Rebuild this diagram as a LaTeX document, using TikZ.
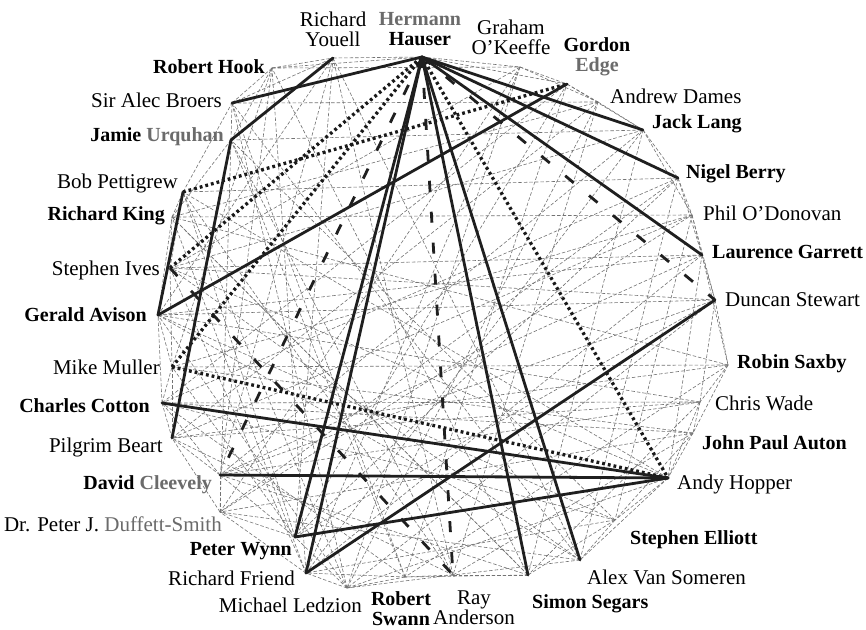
\documentclass[tikz,border=0pt]{standalone}
\usepackage{fontspec}
\setmainfont{Liberation Serif}
\definecolor{lg}{gray}{0.42}
\begin{document}
\begin{tikzpicture}[x=1pt,y=-1pt,
  web/.style={draw=black!55, line width=0.6pt, dash pattern=on 3.5pt off 2pt},
  tie/.style={draw=black!88, line width=2.8pt, line cap=round},
  dots/.style={draw=black!90, line width=3.3pt, dash pattern=on 2.8pt off 3pt},
  longdash/.style={draw=black!88, line width=2.8pt, dash pattern=on 11pt off 20pt},
  lab/.style={inner sep=0pt, font=\fontsize{21}{20}\selectfont, align=center},
  blab/.style={inner sep=0pt, font=\fontsize{20}{20}\selectfont\bfseries, align=center}]
\useasboundingbox[fill=white] (0,0) rectangle (866,629);
% vertices
\coordinate (hau) at (422,57);
\coordinate (oke) at (520,67);
\coordinate (edg) at (567,84);
\coordinate (dam) at (598,102);
\coordinate (lan) at (643,130);
\coordinate (ber) at (678,178);
\coordinate (odo) at (692,215);
\coordinate (gar) at (702,255);
\coordinate (ste) at (715,300);
\coordinate (sax) at (728,365);
\coordinate (wad) at (700,402);
\coordinate (aut) at (693,433);
\coordinate (hop) at (668,478);
\coordinate (ell) at (615,520);
\coordinate (vsm) at (580,560);
\coordinate (seg) at (528,575);
\coordinate (and) at (453,575);
\coordinate (swa) at (405,577);
\coordinate (led) at (347,588);
\coordinate (fri) at (306,573);
\coordinate (wyn) at (295,537);
\coordinate (duf) at (220,512);
\coordinate (cle) at (220,475);
\coordinate (bea) at (172,438);
\coordinate (cot) at (162,403);
\coordinate (mul) at (172,367);
\coordinate (avi) at (158,315);
\coordinate (ive) at (170,268);
\coordinate (kin) at (172,217);
\coordinate (pet) at (183,192);
\coordinate (urq) at (231,140);
\coordinate (bro) at (232,103);
\coordinate (hoo) at (272,68);
\coordinate (you) at (333,58);
% thin dashed web
\foreach \a/\b in {hoo/you, you/hau, hau/oke, oke/edg, edg/dam, dam/lan, lan/ber, ber/odo, odo/gar, gar/ste, ste/sax, sax/wad, wad/aut, aut/hop, hop/ell, ell/vsm, seg/and, and/swa, swa/led, led/fri, wyn/duf, duf/cle, cle/bea, bea/cot, cot/mul, mul/avi, ive/kin, kin/pet, urq/bro, bro/hoo,
 hau/edg, oke/dam, edg/lan, lan/odo, ber/gar, odo/ste, gar/sax, ste/wad, sax/aut, wad/hop, aut/ell, hop/vsm, ell/seg, vsm/and, seg/swa, and/led, swa/fri, led/wyn, fri/duf, wyn/cle, duf/bea, cle/cot, bea/mul, cot/avi, mul/ive, avi/kin, ive/pet, kin/urq, pet/bro, urq/hoo, bro/you, hoo/hau,
 kin/odo, ive/gar, mul/sax, cot/wad, avi/ste, pet/ber, urq/lan, bro/dam, hoo/oke, you/vsm, oke/fri, oke/duf, edg/wyn, dam/bea, lan/cle, ber/cot, ber/duf, odo/mul, odo/bea, gar/avi, gar/cle, ste/ive, ste/wyn, sax/bea, sax/kin, wad/cle, wad/avi, aut/mul, aut/duf, hop/pet, hop/ive, ell/cot, ell/urq, vsm/bro, vsm/avi, seg/hoo, seg/kin, and/you, and/urq, swa/bro, swa/edg, led/dam, led/pet, fri/lan, fri/ive, wyn/mul, duf/odo, cle/ste, bea/wad, cot/aut, avi/ell, ive/vsm, kin/seg, pet/and, urq/swa, bro/led, hoo/fri, you/wyn, oke/led, dam/and, lan/seg, ber/vsm, odo/ell, gar/hop, you/cle, you/avi, hoo/mul, oke/ive, edg/cot, dam/kin, lan/ive, ber/wyn, gar/fri, ste/led, sax/swa, wad/seg, aut/and, hop/led, ell/fri, vsm/duf, seg/cle, and/bea, swa/cot, led/avi, fri/kin, wyn/pet, duf/urq, cle/hoo}
  \draw[web] (\a) -- (\b);
% long dashed
\foreach \a/\b in {hau/ste, hau/and, hau/cle, ive/and}
  \draw[longdash] (\a) -- (\b);
% dotted
\foreach \a/\b in {pet/edg, ive/hau, mul/hau, mul/hop, hau/hop}
  \draw[dots] (\a) -- (\b);
% thick solid
\foreach \a/\b in {bro/hau, you/urq, urq/bea, pet/avi, avi/edg, hau/lan, hau/ber, hau/gar, hau/wyn, hau/fri, hau/seg, hau/vsm, ste/fri, wyn/hop, cle/hop, cot/hop}
  \draw[tie] (\a) -- (\b);
% labels
\node[lab] (lyou) at (333,29) {Richard\\Youell};
\node[blab] (lhau) at (420,29) {\textcolor{lg}{Hermann}\\Hauser};
\node[lab] (loke) at (511,37) {Graham\\O'Keeffe};
\node[blab] (ledg) at (597,57) {Gordon\\\textcolor{lg}{Edge}};
\node[lab, anchor=west] (ldam) at (610,96) {Andrew Dames};
\node[blab, anchor=west] (llan) at (652,124) {Jack Lang};
\node[blab, anchor=west] (lber) at (686,174) {Nigel Berry};
\node[lab, anchor=west] (lodo) at (703,213) {Phil O'Donovan};
\node[blab, anchor=west] (lgar) at (712,252) {Laurence Garrett};
\node[lab, anchor=west] (lste) at (725,300) {Duncan Stewart};
\node[blab, anchor=west] (lsax) at (737,364) {Robin Saxby};
\node[lab, anchor=west] (lwad) at (715,403) {Chris Wade};
\node[blab, anchor=west] (laut) at (702,443) {John Paul Auton};
\node[lab, anchor=west] (lhop) at (677,484) {Andy Hopper};
\node[blab, anchor=west] (lell) at (630,540) {Stephen Elliott};
\node[lab, anchor=west] (lvsm) at (587,577) {Alex Van Someren};
\node[blab, anchor=west] (lseg) at (532,604) {Simon Segars};
\node[lab] (land) at (474,608) {Ray\\Anderson};
\node[blab] (lswa) at (401,609) {Robert\\Swann};
\node[lab, anchor=east] (lled) at (362,605) {Michael Ledzion};
\node[lab, anchor=east] (lfri) at (295,578) {Richard Friend};
\node[blab, anchor=east] (lwyn) at (292,551) {Peter Wynn};
\node[lab, anchor=east] (lduf) at (222,524) {Dr. Peter J. \textcolor{lg}{Duffett-Smith}};
\node[blab, anchor=east] (lcle) at (212,485) {David \textcolor{lg}{Cleevely}};
\node[lab, anchor=east] (lbea) at (163,447) {Pilgrim Beart};
\node[blab, anchor=east] (lcot) at (150,406) {Charles Cotton};
\node[lab, anchor=east] (lmul) at (160,367) {Mike Muller};
\node[blab, anchor=east] (lavi) at (147,315) {Gerald Avison};
\node[lab, anchor=east] (live) at (160,270) {Stephen Ives};
\node[blab, anchor=east] (lkin) at (165,216) {Richard King};
\node[lab, anchor=east] (lpet) at (178,183) {Bob Pettigrew};
\node[blab, anchor=east] (lurq) at (224,137) {Jamie \textcolor{lg}{Urquhan}};
\node[lab, anchor=east] (lbro) at (222,100) {Sir Alec Broers};
\node[blab, anchor=east] (lhoo) at (265,67) {Robert Hook};
\end{tikzpicture}
\end{document}
